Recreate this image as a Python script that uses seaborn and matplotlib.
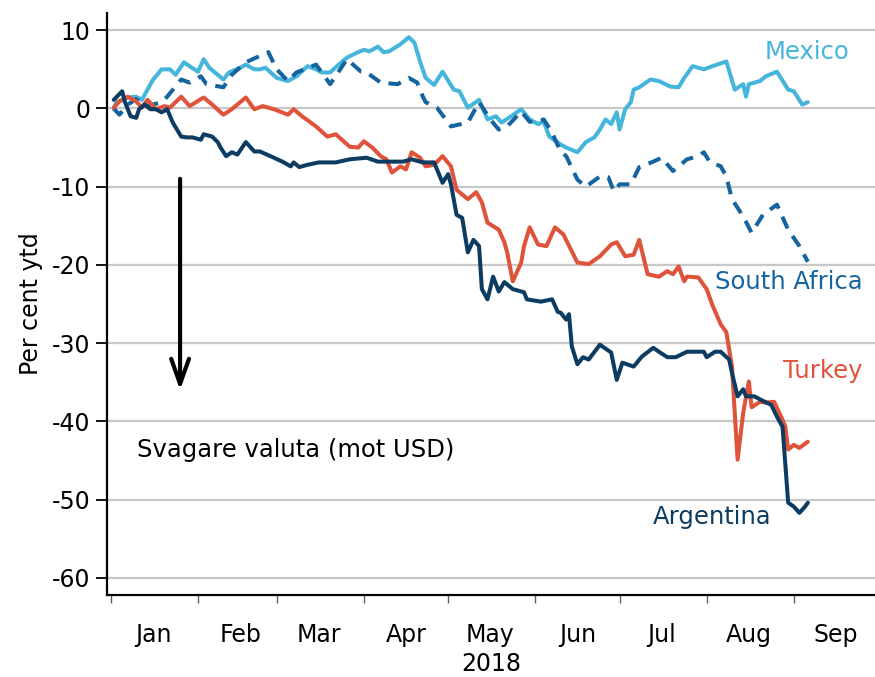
import numpy as np
import pandas as pd
import seaborn as sns
import matplotlib
matplotlib.use("Agg")
import matplotlib.pyplot as plt
import matplotlib.dates as mdates

#### data (day = days after 1 Jan 2018, value = per cent ytd)
mx_day = [1,2,6,9,11,15,16,18,21,23,26,28,31,33,35,38,40,42,46,48,51,53,55,59,63,66,70,73,75,78,81,84,88,90,92,95,97,99,103,106,108,110,112,115,118,122,124,127,131,134,137,139,142,146,149,152,154,156,160,162,166,169,172,174,176,178,180,181,183,185,186,188,192,195,199,202,204,207,211,214,219,222,225,226,227,231,233,237,241,243,246,248]
mx_val = [0,0.8,1.4,1.5,1.1,3.7,4.1,5,5,4.3,5.9,5.4,4.7,6.3,5.2,4.3,3.7,4.6,5.2,5.6,5,5,5.2,3.9,3.5,4.1,5.4,5,4.6,4.6,5.6,6.5,7.2,7.5,7.3,7.9,7.2,7.3,8.2,9.1,8.4,6,3.9,3,4.7,2.4,2.2,0.1,1.1,-1.4,-1,-1.8,-1.1,-0.1,-1.4,-2,-1.7,-3.6,-4.6,-5,-5.6,-4.3,-3.7,-2.7,-1.4,-2,-0.5,-2.7,-0.1,0.8,2.4,2.7,3.7,3.5,2.8,2.7,3.9,5.4,5,5.4,6,2.4,3.1,1.5,3.1,3.5,4.1,4.7,2.4,2.2,0.5,0.8]

sa_day = [1,3,6,9,12,15,18,20,25,28,32,34,40,43,48,56,59,63,66,73,78,84,89,91,96,102,106,109,111,112,116,121,127,131,135,138,141,146,149,152,154,157,160,162,166,169,174,177,179,181,185,188,193,196,200,205,209,211,213,217,219,221,225,228,232,237,241,245,248]
sa_val = [0,-0.8,0.5,1.2,0.3,0.5,0.8,1.5,3.7,3.3,4.1,3.1,2.7,4.3,5.9,7.2,5,3.5,4.6,5.6,3.1,6.3,4.7,4.6,3.3,3.1,3.9,3.3,1.5,0.8,0.1,-2.3,-1.8,0.8,-1.4,-2.7,-2.3,-0.4,-1.7,-1.7,-1.4,-3.1,-5.5,-6.1,-9.1,-10,-8.7,-8.8,-10.6,-9.7,-9.7,-7.5,-6.8,-6.3,-8,-6.5,-6.1,-5.6,-6.8,-7.4,-8.7,-11.6,-13.8,-15.9,-13.6,-12.3,-15.5,-17.6,-19.6]

tr_day = [1,3,6,9,11,13,16,19,21,25,28,33,36,40,43,48,51,54,58,63,65,68,73,77,80,85,88,90,93,96,98,100,103,105,107,110,112,115,118,121,123,127,130,132,134,138,140,141,143,146,147,149,152,155,158,161,166,170,174,178,180,183,186,188,191,195,198,200,202,204,205,209,212,214,217,219,221,223,225,227,228,231,233,236,239,240,241,243,245,248]
tr_val = [0.1,0.9,1.5,0.9,0.1,1.1,-0.1,0.3,0.1,1.5,0.3,1.4,0.5,-0.8,-0.1,1.4,-0.1,0.3,-0.1,-0.8,-0.1,-1,-2.3,-3.6,-3.3,-4.9,-5,-4.2,-5,-6.1,-6.5,-8.2,-7.4,-7.8,-5.6,-6.3,-7.4,-7.2,-6.1,-7.4,-10.4,-11.6,-10.7,-12,-14.6,-15.5,-17.1,-18.4,-22.1,-19.7,-17.6,-15.2,-17.4,-17.6,-15.2,-16.1,-19.7,-19.9,-18.9,-17.4,-17.1,-18.9,-18.7,-16.8,-21.2,-21.5,-20.8,-21.2,-20.2,-22.1,-21.5,-21.6,-23.1,-25.1,-27.6,-28.6,-33,-44.9,-38.9,-34.9,-38.2,-37.5,-37.6,-37.5,-39.8,-40.7,-43.6,-43,-43.4,-42.6]

ar_day = [1,4,5,7,9,10,12,14,16,18,20,22,25,27,29,32,33,36,38,39,41,43,45,48,51,53,58,61,64,65,67,70,74,80,85,91,95,99,104,107,111,115,118,120,121,123,125,127,129,131,132,134,136,138,140,143,147,148,153,157,159,160,162,163,164,166,168,170,174,178,180,182,186,189,193,195,198,201,205,211,212,215,217,220,221,223,225,226,229,231,235,237,239,241,243,245,247,248]
ar_val = [1.1,2.2,0.8,-1,-1.2,-0.1,0.5,-0.1,-0.1,-0.5,-0.1,-1.8,-3.6,-3.7,-3.7,-4,-3.3,-3.6,-4.3,-5,-6.1,-5.6,-5.9,-4.3,-5.5,-5.5,-6.3,-6.8,-7.4,-6.9,-7.5,-7.2,-6.9,-6.9,-6.5,-6.3,-6.8,-6.8,-6.8,-6.5,-6.9,-6.9,-9.5,-8.4,-9.7,-13.6,-14,-18.4,-16.8,-17.6,-23.1,-24.4,-21.5,-23.4,-22.2,-23.1,-23.5,-24.4,-24.7,-24.4,-26,-26.1,-27,-26.3,-30.4,-32.7,-31.8,-32.1,-30.2,-31.2,-34.7,-32.5,-33,-31.7,-30.6,-31.1,-31.8,-31.8,-31.1,-31.1,-31.8,-31.1,-31.1,-32.1,-33.8,-36.8,-35.9,-36.8,-36.8,-37.2,-37.9,-39.4,-40.7,-50.4,-50.9,-51.7,-50.9,-50.4]

yticks = [10, 0, -10, -20, -30, -40, -50, -60]

c_mx = "#45b5dc"
c_sa = "#15649f"
c_tr = "#e0533b"
c_ar = "#0c3c61"
##################

start = pd.Timestamp("2018-01-01")

def to_dates(days):
	return start + pd.to_timedelta(np.asarray(days, dtype=float), unit="D")

sns.set_theme(style="white")
plt.rcParams["font.family"] = ["DejaVu Sans"]
plt.rcParams["text.color"] = "black"
plt.rcParams["axes.labelcolor"] = "black"

fig = plt.figure(figsize=(8.75, 6.77), dpi=100)
ax = fig.add_axes([0.1223, 0.1211, 0.8777, 0.8597])

ax.grid(axis="y", color="#c8c8c8", lw=1.6)
ax.set_axisbelow(True)

lw = 2.9
sns.lineplot(x=to_dates(mx_day), y=mx_val, color=c_mx, linewidth=lw, ax=ax)
sns.lineplot(x=to_dates(sa_day), y=sa_val, color=c_sa, linewidth=lw, ax=ax, linestyle=(0, (3.2, 2.2)))
sns.lineplot(x=to_dates(tr_day), y=tr_val, color=c_tr, linewidth=lw, ax=ax)
sns.lineplot(x=to_dates(ar_day), y=ar_val, color=c_ar, linewidth=lw, ax=ax)

ax.set_ylim(-62.2, 12.2)
ax.set_xlim(start - pd.Timedelta(days=1.4), start + pd.Timedelta(days=271.9))
ax.set_yticks(yticks)
ax.set_yticklabels([str(v) for v in yticks])

# month ticks at month start, labels in the middle of the month
ax.xaxis.set_major_locator(mdates.MonthLocator())
ax.xaxis.set_major_formatter(plt.NullFormatter())
ax.xaxis.set_minor_locator(mdates.MonthLocator(bymonthday=16))
ax.xaxis.set_minor_formatter(mdates.DateFormatter("%b"))
ax.tick_params(axis="x", which="major", direction="out", length=6, width=1, color="#606060", bottom=True)
ax.tick_params(axis="x", which="minor", length=0, labelsize=17, pad=20, bottom=True, labelcolor="black")
ax.tick_params(axis="y", direction="out", length=8, width=1.3, color="black", labelsize=17, left=True, pad=4, labelcolor="black")

for s in ["top", "right"]:
	ax.spines[s].set_visible(False)
for s in ["left", "bottom"]:
	ax.spines[s].set_color("black")
	ax.spines[s].set_linewidth(1.6)

ax.set_xlabel("2018", fontsize=17, labelpad=4, color="black")
ax.set_ylabel("Per cent ytd", fontsize=17, labelpad=6, color="black")

# series labels
ax.text(to_dates([232.7])[0], 7.2, "Mexico", color=c_mx, fontsize=17.5, va="center", ha="left")
ax.text(to_dates([215])[0], -22.2, "South Africa", color=c_sa, fontsize=17.5, va="center", ha="left")
ax.text(to_dates([239])[0], -33.5, "Turkey", color=c_tr, fontsize=17.5, va="center", ha="left")
ax.text(to_dates([193])[0], -52.2, "Argentina", color=c_ar, fontsize=17.5, va="center", ha="left")

ax.text(to_dates([9.3])[0], -43.6, "Svagare valuta (mot USD)", color="black", fontsize=17.5, va="center", ha="left")
ax.annotate("", xy=(to_dates([24.6])[0], -36.0), xytext=(to_dates([24.6])[0], -9.0),
	arrowprops=dict(arrowstyle="->,head_length=0.9,head_width=0.32", lw=3, color="black", mutation_scale=20, shrinkA=0, shrinkB=0))

plt.savefig("out.png", dpi=100)
